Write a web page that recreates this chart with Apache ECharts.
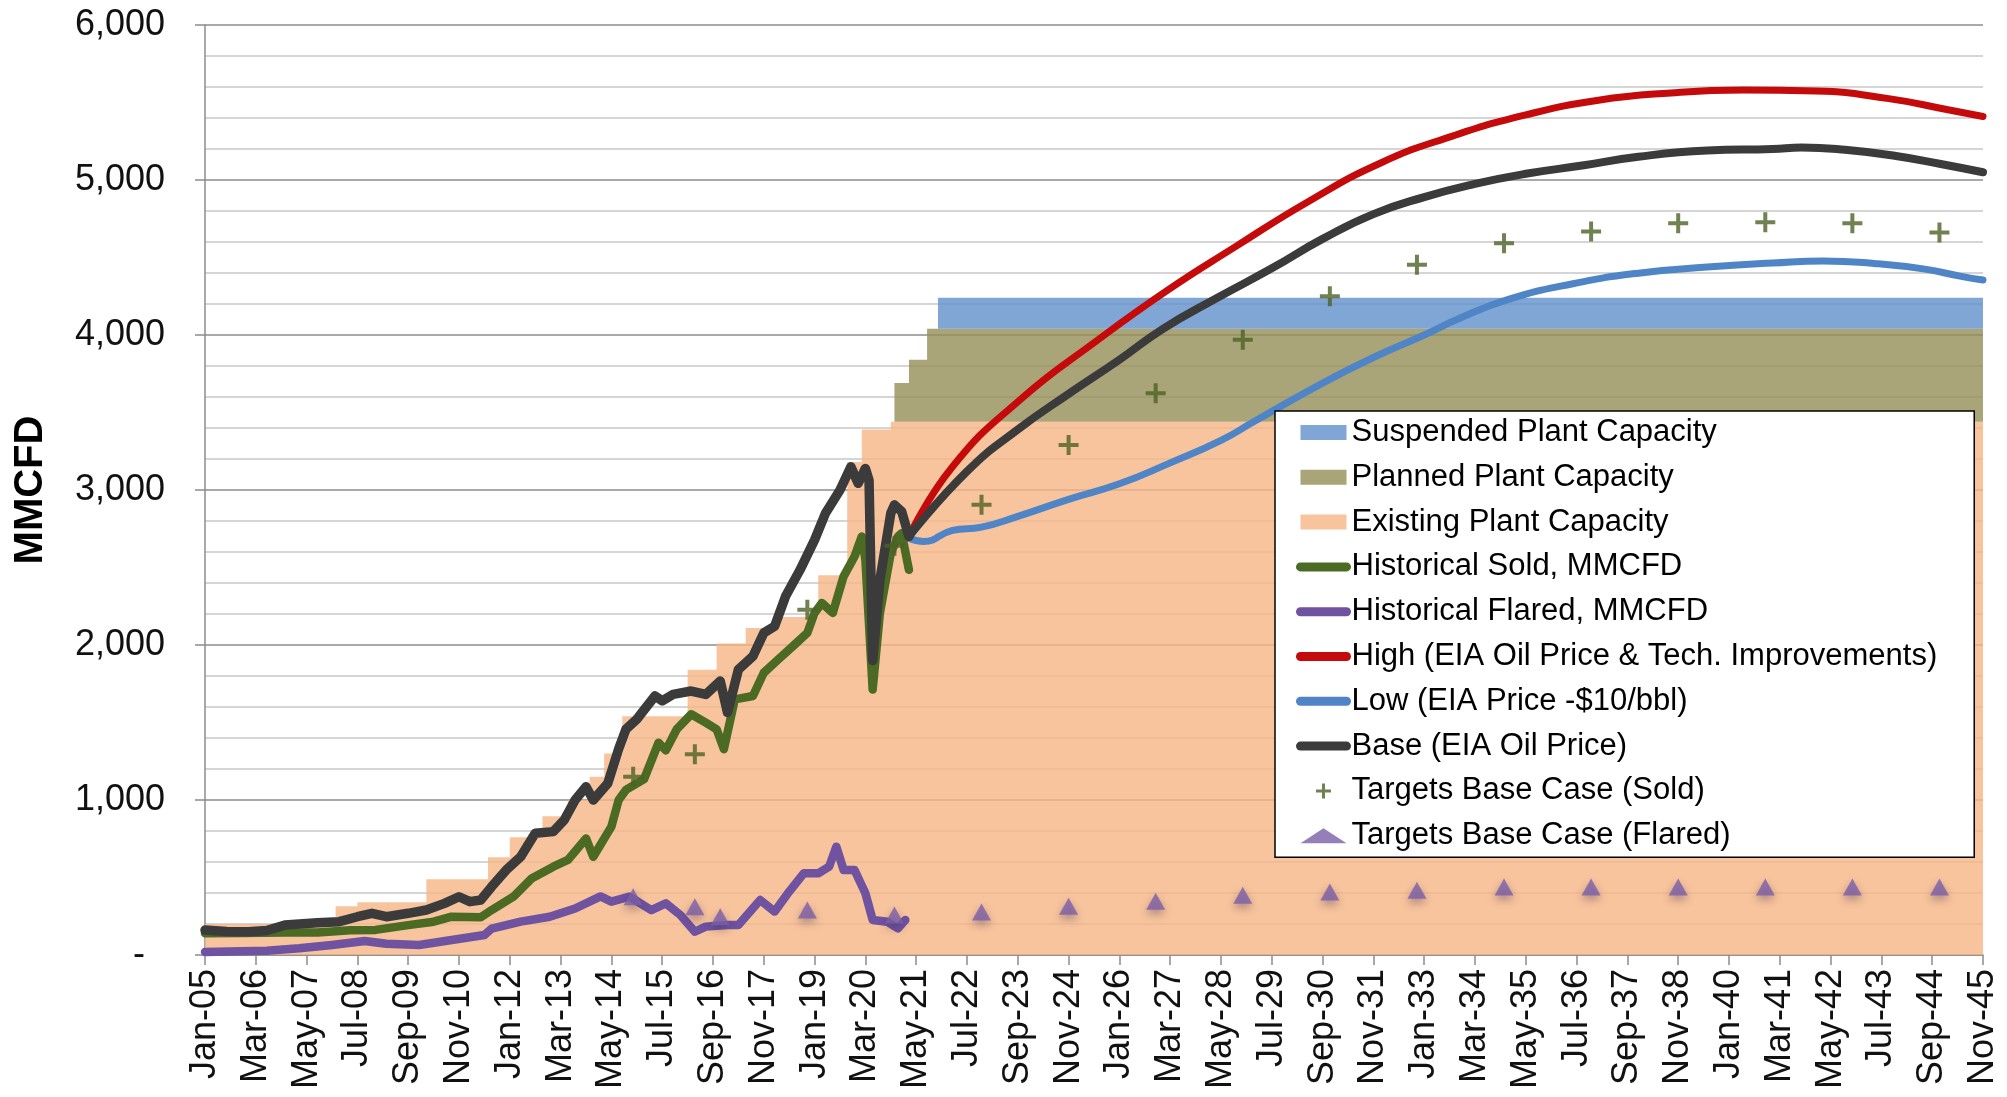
<!DOCTYPE html>
<html>
<head>
<meta charset="utf-8">
<title>MMCFD forecast</title>
<script src="https://cdn.jsdelivr.net/npm/echarts@6/dist/echarts.min.js"></script>
<style>
  html, body { margin: 0; padding: 0; background: #fff; }
  #chart { width: 2007px; height: 1097px; }
</style>
</head>
<body>
<div id="chart"></div>
<script>
// x values are month numbers counted from Jan-05 (0) to Nov-45 (490)
var monthStep = 14;
var tickLabels = ["Jan-05", "Mar-06", "May-07", "Jul-08", "Sep-09", "Nov-10", "Jan-12", "Mar-13", "May-14",
  "Jul-15", "Sep-16", "Nov-17", "Jan-19", "Mar-20", "May-21", "Jul-22", "Sep-23", "Nov-24", "Jan-26",
  "Mar-27", "May-28", "Jul-29", "Sep-30", "Nov-31", "Jan-33", "Mar-34", "May-35", "Jul-36", "Sep-37",
  "Nov-38", "Jan-40", "Mar-41", "May-42", "Jul-43", "Sep-44", "Nov-45"];

// plant capacity tops (each value holds until the next month in the list)
var capMonths      = [0, 36, 42, 61, 78, 84, 93, 100, 106, 110, 115, 133, 141, 149, 157, 169, 177, 181, 189, 190, 194, 199, 202, 490];
var existingCap    = [200, 315, 340, 488, 630, 760, 895, 1000, 1150, 1300, 1540, 1840, 2010, 2110, 2180, 2450, 3180, 3390, 3440, 3440, 3440, 3440, 3440, 3440];
var plannedTotal   = [200, 315, 340, 488, 630, 760, 895, 1000, 1150, 1300, 1540, 1840, 2010, 2110, 2180, 2450, 3180, 3390, 3440, 3690, 3840, 4040, 4040, 4040];
var suspendedTotal = [200, 315, 340, 488, 630, 760, 895, 1000, 1150, 1300, 1540, 1840, 2010, 2110, 2180, 2450, 3180, 3390, 3440, 3690, 3840, 4040, 4240, 4240];

var soldHistory = [[0, 140], [10, 142], [22, 145], [31, 145], [40, 160], [47, 162], [56, 193], [63, 215], [68, 247],
  [76, 243], [79, 290], [85, 376], [90, 494], [96, 570], [100, 613], [105, 752], [107, 634], [112, 828],
  [114, 1000], [116, 1065], [121, 1135], [125, 1370], [127, 1320], [130, 1456], [134, 1553], [138, 1499],
  [141, 1456], [143, 1328], [146, 1649], [151, 1671], [154, 1821], [158, 1907], [162, 1992], [166, 2078],
  [168, 2207], [170, 2271], [173, 2207], [176, 2443], [179, 2571], [181, 2700], [182, 2550], [184, 1713],
  [186, 2207], [189, 2593], [191, 2700], [192, 2721], [194, 2485]];

var flaredHistory = [[0, 20], [17, 28], [26, 43], [35, 65], [44, 90], [50, 72], [59, 65], [68, 97], [77, 129],
  [79, 170], [87, 215], [95, 247], [102, 300], [109, 378], [112, 344], [117, 376], [123, 290], [127, 333],
  [131, 258], [135, 150], [138, 183], [144, 194], [147, 194], [153, 355], [157, 280], [161, 409], [165, 527],
  [169, 527], [172, 570], [174, 699], [176, 548], [179, 548], [182, 398], [184, 226], [188, 215], [191, 172],
  [193, 226]];

var baseHistory = [[0, 161], [6, 152], [12, 150], [17, 158], [22, 193], [31, 208], [37, 215], [42, 247], [46, 269],
  [50, 247], [56, 269], [61, 290], [66, 333], [70, 376], [73, 344], [76, 355], [79, 441], [83, 548], [87, 634],
  [91, 785], [96, 796], [99, 871], [102, 1000], [105, 1086], [107, 1000], [111, 1107], [114, 1330], [116, 1456],
  [119, 1521], [124, 1671], [126, 1640], [129, 1681], [134, 1703], [138, 1681], [142, 1767], [144, 1564],
  [147, 1842], [151, 1928], [154, 2078], [157, 2121], [160, 2314], [164, 2485], [168, 2678], [171, 2850],
  [175, 3000], [178, 3150], [180, 3043], [182, 3139], [183, 3064], [184, 1900], [186, 2421], [189, 2850],
  [190, 2904], [192, 2861], [194, 2700]];

var highForecast = [[194, 2700], [206, 3150], [225, 3590], [245, 3950], [265, 4285], [284, 4570], [304, 4860],
  [324, 5110], [344, 5285], [364, 5420], [384, 5515], [404, 5562], [424, 5580], [444, 5574], [464, 5525],
  [480, 5455], [490, 5410]];

var lowForecast = [[194, 2690], [198, 2668], [206, 2740], [214, 2760], [224, 2830], [238, 2940], [252, 3040],
  [266, 3175], [280, 3320], [289, 3440], [308, 3690], [322, 3855], [336, 4000], [345, 4100], [359, 4228],
  [377, 4331], [395, 4399], [414, 4438], [432, 4464], [446, 4478], [460, 4462], [474, 4425], [484, 4378],
  [490, 4355]];

var baseForecast = [[194, 2700], [210, 3120], [224, 3390], [238, 3620], [252, 3840], [264, 4040], [279, 4240],
  [294, 4430], [308, 4620], [322, 4780], [336, 4890], [350, 4975], [364, 5040], [380, 5095], [395, 5150],
  [414, 5190], [432, 5200], [440, 5210], [452, 5195], [466, 5155], [478, 5105], [490, 5050]];

var soldTargets = [[118, 1150], [135, 1295], [166, 2228], [190, 2640], [214, 2905], [238, 3290], [262, 3625],
  [286, 3970], [310, 4250], [334, 4453], [358, 4592], [382, 4667], [406, 4721], [430, 4727], [454, 4721],
  [478, 4661]];

var flaredTargets = [[118, 376], [135, 312], [142, 247], [166, 290], [190, 258], [214, 278], [238, 315],
  [262, 347], [286, 385], [310, 407], [334, 417], [358, 439], [382, 439], [406, 439], [430, 439], [454, 439],
  [478, 439]];

var FONT = "'Liberation Sans', Arial, sans-serif";
var col = {
  susp: "#80A6D6", suspArea: "#6090CC",
  plan: "#AAA479", planArea: "#958D58",
  exist: "#F8C49D", existArea: "#F6B585",
  sold: "#4B6A23", flared: "#6F52A0", high: "#C40A0A", low: "#4F85C6", base: "#3B3B3B",
  plus: "#4E6125", tri: "#7A5FA8"
};
var plusPath = "path://M2,0h1v2h2v1h-2v2h-1v-2h-2v-1h2z";

// one polygon per capacity band, stepped between the listed months
function renderBand(params, api) {
  if (params.dataIndexInside !== 0) return null;
  var n = params.dataInsideLength, top = [], bottom = [];
  for (var i = 0; i < n; i++) {
    var m0 = api.value(0, i);
    var m1 = i + 1 < n ? api.value(0, i + 1) : m0;
    var lo = api.value(1, i), hi = api.value(2, i);
    top.push(api.coord([m0, hi]), api.coord([m1, hi]));
    bottom.push(api.coord([m0, lo]), api.coord([m1, lo]));
  }
  return {
    type: "polygon",
    shape: { points: top.concat(bottom.reverse()) },
    style: { fill: api.visual("color"), opacity: 0.8 }
  };
}

function bandSeries(name, lower, upper, areaColor) {
  var data = capMonths.map(function (m, i) { return [m, lower ? lower[i] : 0, upper[i]]; });
  return {
    name: name, type: "custom", renderItem: renderBand, data: data, silent: true,
    encode: { x: 0, y: [1, 2] },
    itemStyle: { color: areaColor }
  };
}

function lineSeries(name, data, color, width, smooth) {
  return {
    name: name, type: "line", data: data, symbol: "none", showSymbol: false, silent: true,
    smooth: smooth ? 0.5 : false,
    itemStyle: { color: color },
    lineStyle: { color: color, width: width, join: "round", cap: "round" },
    z: 3
  };
}

function lineLegend(name, color) {
  return { name: name, lineStyle: { color: color, width: 9, cap: "round" }, itemStyle: { opacity: 0 } };
}

var chart = echarts.init(document.getElementById("chart"), null, { renderer: "canvas" });

var option = {
  animation: false,
  backgroundColor: "#ffffff",
  grid: { left: 205, top: 25, right: 24, bottom: 142, outerBoundsMode: "none", containLabel: false },
  xAxis: {
    type: "value", min: 0, max: 490, interval: monthStep,
    axisLine: { show: true, lineStyle: { color: "#8C8C8C", width: 1.5 } },
    axisTick: { show: true, length: 10, lineStyle: { color: "#8C8C8C", width: 1.5 } },
    splitLine: { show: false },
    axisLabel: {
      rotate: 90, margin: 14, color: "#111", fontSize: 36, fontFamily: FONT,
      formatter: function (v) { return tickLabels[Math.round(v / monthStep)]; }
    }
  },
  yAxis: {
    type: "value", min: 0, max: 6000, interval: 1000,
    name: "MMCFD", nameLocation: "middle", nameGap: 154,
    nameTextStyle: { fontSize: 40, fontWeight: "bold", color: "#000", fontFamily: FONT },
    axisLine: { show: true, lineStyle: { color: "#8C8C8C", width: 1.5 } },
    axisTick: { show: true, length: 10, lineStyle: { color: "#8C8C8C", width: 1.5 } },
    axisLabel: {
      margin: 40, color: "#111", fontSize: 36, fontFamily: FONT,
      formatter: function (v) { return v === 0 ? "-  " : v.toLocaleString("en-US"); }
    },
    splitLine: { show: true, lineStyle: { color: "#8C8C8C", width: 1.5 } },
    minorTick: { show: false, splitNumber: 5 },
    minorSplitLine: { show: true, lineStyle: { color: "#C8C8C8", width: 1.5 } }
  },
  legend: {
    orient: "vertical", left: 1275, top: 411,
    padding: [6, 37, 6, 21], itemGap: 13.8, itemWidth: 46, itemHeight: 15,
    backgroundColor: "#ffffff", borderColor: "#000000", borderWidth: 1.5,
    selectedMode: false,
    textStyle: { fontSize: 31, lineHeight: 30, color: "#000", fontFamily: FONT },
    data: [
      { name: "Suspended Plant Capacity", icon: "rect", itemStyle: { color: col.susp, borderWidth: 0 } },
      { name: "Planned Plant Capacity", icon: "rect", itemStyle: { color: col.plan, borderWidth: 0 } },
      { name: "Existing Plant Capacity", icon: "rect", itemStyle: { color: col.exist, borderWidth: 0 } },
      lineLegend("Historical Sold, MMCFD", col.sold),
      lineLegend("Historical Flared, MMCFD", col.flared),
      lineLegend("High (EIA Oil Price & Tech. Improvements)", col.high),
      lineLegend("Low (EIA Price -$10/bbl)", col.low),
      lineLegend("Base (EIA Oil Price)", col.base),
      { name: "Targets Base Case (Sold)" },
      { name: "Targets Base Case (Flared)" }
    ]
  },
  series: [
    bandSeries("Existing Plant Capacity", null, existingCap, col.existArea),
    bandSeries("Planned Plant Capacity", existingCap, plannedTotal, col.planArea),
    bandSeries("Suspended Plant Capacity", plannedTotal, suspendedTotal, col.suspArea),
    lineSeries("Historical Sold, MMCFD", soldHistory, col.sold, 8.5, false),
    lineSeries("Historical Flared, MMCFD", flaredHistory, col.flared, 8.5, false),
    lineSeries("High (EIA Oil Price & Tech. Improvements)", highForecast, col.high, 7, true),
    lineSeries("Low (EIA Price -$10/bbl)", lowForecast, col.low, 7, true),
    lineSeries("Base (EIA Oil Price)", baseHistory, col.base, 9.5, false),
    lineSeries("Base (EIA Oil Price)", baseForecast, col.base, 8, true),
    {
      name: "Targets Base Case (Sold)", type: "scatter", data: soldTargets, silent: true,
      symbol: plusPath, symbolSize: 20,
      itemStyle: { color: col.plus }, z: 4
    },
    {
      name: "Targets Base Case (Flared)", type: "scatter", data: flaredTargets, silent: true,
      symbol: "triangle", symbolSize: [19, 17],
      itemStyle: {
        color: col.tri, shadowBlur: 8, shadowColor: "rgba(60,40,80,0.5)", shadowOffsetY: 4
      },
      z: 4
    }
  ]
};

chart.setOption(option);
</script>
</body>
</html>
